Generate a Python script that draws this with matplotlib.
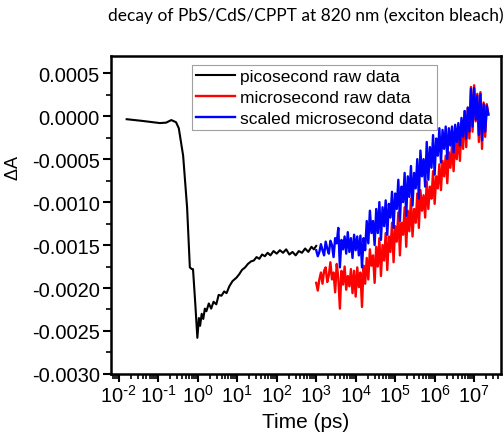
import numpy as np
import matplotlib
matplotlib.use('Agg')
import matplotlib.pyplot as plt
from matplotlib.ticker import LogLocator, MultipleLocator, FormatStrFormatter, FuncFormatter

# picosecond data: log10(time / ps) and dA (units of 1e-4)
ps_logt = [-1.80, -1.40, -0.96, -0.80, -0.67, -0.55, -0.48, -0.37, -0.27, -0.20,
           -0.15, -0.12, -0.06, -0.01, 0.03, 0.06, 0.10, 0.14, 0.18, 0.22,
           0.28, 0.34, 0.40, 0.47, 0.53, 0.60, 0.67, 0.73, 0.80, 0.88,
           0.98, 1.05, 1.12, 1.20, 1.27, 1.35, 1.42, 1.49, 1.56, 1.63,
           1.70, 1.77, 1.84, 1.92, 2.00, 2.08, 2.16, 2.24, 2.32, 2.40,
           2.48, 2.56, 2.64, 2.72, 2.80, 2.88, 2.94, 3.00]
ps_dA = [-0.35, -0.55, -0.80, -0.75, -0.45, -0.70, -1.40, -4.6, -10.6, -17.6,
         -17.8, -17.8, -22.0, -25.8, -23.5, -24.4, -23.0, -23.6, -22.4, -22.7,
         -21.8, -22.4, -21.6, -21.9, -20.8, -20.9, -20.4, -20.6, -19.8, -19.2,
         -18.8, -18.4, -17.9, -17.6, -17.2, -16.9, -16.8, -16.4, -16.6, -16.1,
         -16.3, -15.9, -16.2, -15.7, -16.0, -15.6, -15.9, -15.5, -16.1, -15.8,
         -16.2, -15.7, -15.9, -15.4, -15.8, -15.2, -15.5, -15.1]

# microsecond data: log10(time / ps)
us_logt = [3.00, 3.04, 3.08, 3.12, 3.16, 3.20, 3.24, 3.28, 3.32, 3.36,
           3.40, 3.44, 3.48, 3.52, 3.56, 3.60, 3.64, 3.68, 3.72, 3.76,
           3.80, 3.84, 3.88, 3.92, 3.96, 4.00, 4.04, 4.08, 4.12, 4.16,
           4.20, 4.24, 4.28, 4.32, 4.36, 4.40, 4.44, 4.48, 4.52, 4.56,
           4.60, 4.64, 4.68, 4.72, 4.76, 4.80, 4.84, 4.88, 4.92, 4.96,
           5.00, 5.04, 5.08, 5.12, 5.16, 5.20, 5.24, 5.28, 5.32, 5.36,
           5.40, 5.44, 5.48, 5.52, 5.56, 5.60, 5.64, 5.68, 5.72, 5.76,
           5.80, 5.84, 5.88, 5.92, 5.96, 6.00, 6.04, 6.08, 6.12, 6.16,
           6.20, 6.24, 6.28, 6.32, 6.36, 6.40, 6.44, 6.48, 6.52, 6.56,
           6.60, 6.64, 6.68, 6.72, 6.76, 6.80, 6.84, 6.88, 6.92, 6.96,
           7.00, 7.04, 7.08, 7.12, 7.16, 7.20, 7.24, 7.28, 7.32, 7.36]
us_raw = [-19.4, -20.3, -19.0, -18.2, -19.5, -18.0, -17.6, -19.3, -18.5, -17.0,
          -19.0, -18.2, -20.5, -17.2, -18.8, -22.4, -18.0, -19.6, -17.5, -20.2,
          -18.6, -19.8, -17.8, -20.6, -18.0, -21.0, -17.6, -19.9, -18.2, -22.2,
          -17.4, -19.5, -16.5, -19.0, -15.5, -17.4, -16.2, -19.4, -15.2, -17.5,
          -14.2, -18.6, -15.0, -16.8, -13.6, -17.9, -14.0, -15.8, -12.4, -17.0,
          -12.8, -14.6, -11.2, -16.2, -12.4, -13.8, -10.6, -15.2, -11.0, -13.4,
          -9.6, -14.0, -10.8, -12.4, -9.0, -13.0, -8.6, -11.0, -9.2, -11.8,
          -7.6, -10.8, -8.2, -9.6, -6.4, -10.2, -7.0, -8.4, -5.6, -8.6,
          -5.2, -7.0, -4.6, -7.8, -4.2, -6.0, -3.2, -6.4, -2.8, -5.0,
          -1.8, -5.2, -1.0, -3.8, 0.6, -3.6, 1.0, -2.6, 3.4, -1.8,
          3.6, -0.6, 2.6, -3.0, 2.8, -3.8, 1.6, -2.4, 1.4, 0.2]
us_scaled = [-15.6, -16.3, -15.8, -14.9, -15.6, -16.2, -14.6, -15.4, -16.0, -14.5,
             -15.0, -16.4, -14.2, -14.8, -13.0, -17.6, -14.4, -15.5, -14.0, -16.0,
             -13.5, -15.8, -14.2, -16.5, -13.8, -15.6, -14.0, -16.2, -13.9, -17.6,
             -14.2, -15.6, -12.2, -14.8, -11.0, -13.6, -12.2, -15.0, -10.8, -13.6,
             -10.0, -14.4, -10.6, -12.8, -9.8, -13.8, -10.2, -11.8, -8.8, -13.0,
             -9.0, -10.8, -7.4, -12.2, -8.2, -10.0, -6.6, -11.6, -7.0, -9.4,
             -5.8, -10.4, -6.6, -8.4, -5.0, -9.6, -4.0, -7.0, -5.0, -8.2,
             -3.0, -7.4, -3.6, -6.0, -2.2, -6.8, -2.6, -4.6, -1.4, -5.4,
             -1.6, -3.8, -1.2, -5.0, -1.4, -3.4, -1.2, -4.2, -1.0, -3.0,
             -0.8, -3.4, -0.2, -2.4, 0.6, -2.6, 1.0, -1.8, 3.2, -1.2,
             3.3, -0.4, 2.4, -2.2, 2.6, -2.8, 1.4, -1.8, 1.2, 0.2]

t_ps = 10 ** np.array(ps_logt)
t_us = 10 ** np.array(us_logt)
scale = 1e-4

plt.rcParams['font.family'] = ['Liberation Sans', 'DejaVu Sans']
plt.rcParams['mathtext.default'] = 'regular'

fig = plt.figure(figsize=(5.04, 4.39), dpi=100)
ax = fig.add_axes([0.220, 0.146, 0.774, 0.724])

ax.plot(t_ps, np.array(ps_dA) * scale, color='black', lw=1.5, label='picosecond raw data')
ax.plot(t_us, np.array(us_raw) * scale, color='red', lw=1.7, label='microsecond raw data')
ax.plot(t_us, np.array(us_scaled) * scale, color='blue', lw=1.7, label='scaled microsecond data')

ax.set_xscale('log')
ax.set_xlim(10 ** -2.2, 10 ** 7.68)
ax.set_ylim(-0.003, 0.0007)
ax.xaxis.set_major_locator(LogLocator(base=10, numticks=20))
ax.xaxis.set_minor_locator(LogLocator(base=10, subs=np.arange(2, 10), numticks=20))
ax.xaxis.set_major_formatter(FuncFormatter(
    lambda v, pos: r'$10^{%s}$' % (r'\text{-}%d' % -round(np.log10(v)) if v < 1 else '%d' % round(np.log10(v)))))
ax.yaxis.set_major_locator(MultipleLocator(0.0005))
ax.yaxis.set_minor_locator(MultipleLocator(0.00025))
ax.yaxis.set_major_formatter(FormatStrFormatter('%.4f'))

for s in ax.spines.values():
    s.set_linewidth(1.8)
ax.tick_params(which='major', direction='out', length=6, width=1.5, labelsize=14.5, pad=2)
ax.tick_params(which='minor', direction='out', length=3.5, width=1.2)
ax.tick_params(axis='x', which='major', pad=1)

ax.set_xlabel('Time (ps)', fontsize=15, labelpad=5)
ax.set_ylabel(r'$\Delta$A', fontsize=13)
ax.yaxis.set_label_coords(-0.228, 0.65)

fig.text(0.607, 0.965, 'decay of PbS/CdS/CPPT at 820 nm (exciton bleach)',
         ha='center', va='center', fontsize=12.5, family=['Lato', 'DejaVu Sans'])

leg = ax.legend(loc='upper left', bbox_to_anchor=(0.208, 0.972), borderaxespad=0,
                fontsize=12.5, frameon=True, fancybox=False, handlelength=2.2,
                handletextpad=0.3, labelspacing=0.32, borderpad=0.25)
leg.get_frame().set_edgecolor('#888888')
leg.get_frame().set_linewidth(0.8)

plt.savefig('out.png', dpi=100)
